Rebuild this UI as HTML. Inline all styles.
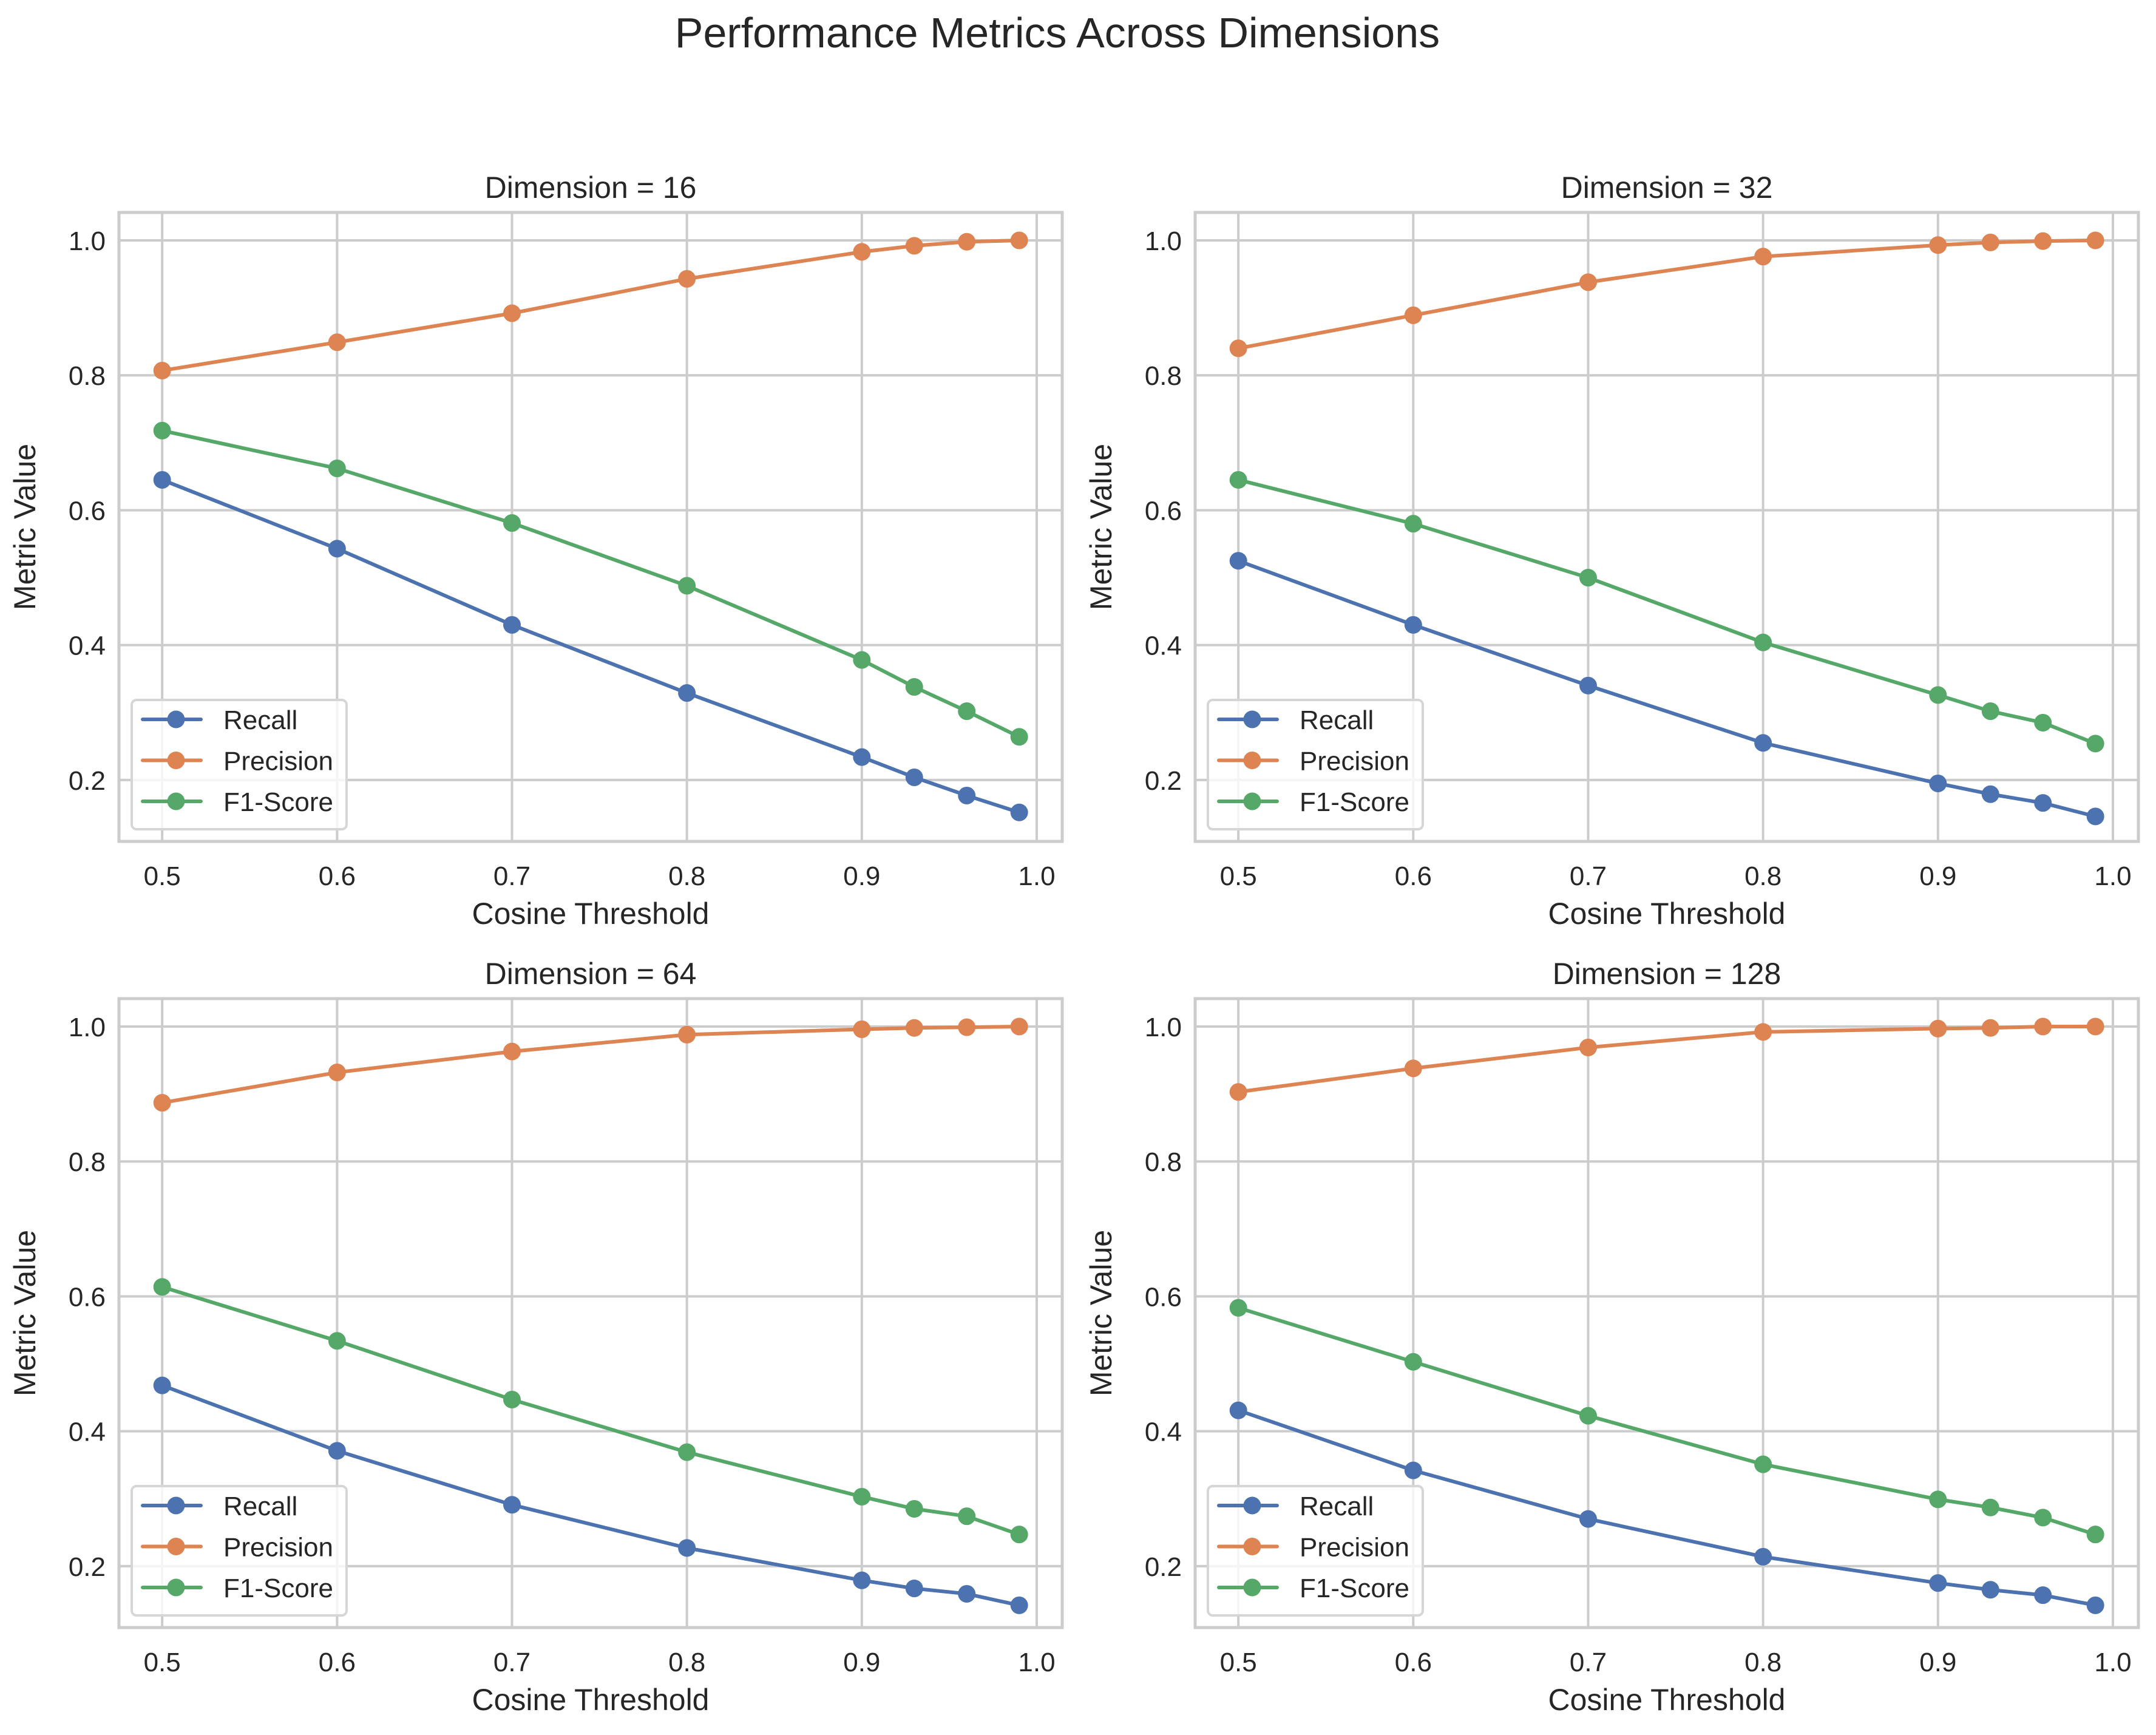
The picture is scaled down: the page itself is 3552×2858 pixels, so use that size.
<!DOCTYPE html>
<html><head><meta charset="utf-8"><style>
html,body{margin:0;padding:0;background:#fff;}
svg{display:block;font-family:"Liberation Sans",Arial,sans-serif;}
</style></head><body>
<svg id="chart" width="3552" height="2858" viewBox="0 0 3552 2858" xmlns="http://www.w3.org/2000/svg">
<rect width="3552" height="2858" fill="#fff"/>
<text x="1742" y="78" text-anchor="middle" font-size="70" fill="#262626">Performance Metrics Across Dimensions</text>
</svg>
<script>
const thresholds = [0.5, 0.6, 0.7, 0.8, 0.9, 0.93, 0.96, 0.99];
const dims = [16, 32, 64, 128];
const recall16 = [0.645, 0.543, 0.430, 0.329, 0.234, 0.204, 0.177, 0.152];
const precision16 = [0.807, 0.849, 0.892, 0.943, 0.983, 0.992, 0.998, 1.0];
const f1_16 = [0.718, 0.662, 0.581, 0.488, 0.378, 0.338, 0.302, 0.264];
const recall32 = [0.525, 0.430, 0.340, 0.255, 0.195, 0.179, 0.166, 0.146];
const precision32 = [0.840, 0.889, 0.938, 0.976, 0.993, 0.997, 0.999, 1.0];
const f1_32 = [0.645, 0.580, 0.500, 0.404, 0.326, 0.302, 0.285, 0.254];
const recall64 = [0.468, 0.371, 0.291, 0.227, 0.179, 0.167, 0.159, 0.142];
const precision64 = [0.887, 0.932, 0.963, 0.988, 0.996, 0.998, 0.999, 1.0];
const f1_64 = [0.614, 0.534, 0.447, 0.369, 0.303, 0.285, 0.274, 0.247];
const recall128 = [0.431, 0.342, 0.270, 0.214, 0.175, 0.165, 0.157, 0.142];
const precision128 = [0.903, 0.938, 0.969, 0.992, 0.997, 0.998, 1.0, 1.0];
const f1_128 = [0.583, 0.503, 0.423, 0.351, 0.299, 0.287, 0.272, 0.247];
const xTicks = [0.5, 0.6, 0.7, 0.8, 0.9, 1.0];
const xTickLabels = ["0.5", "0.6", "0.7", "0.8", "0.9", "1.0"];
const yTicks = [0.2, 0.4, 0.6, 0.8, 1.0];
const yTickLabels = ["0.2", "0.4", "0.6", "0.8", "1.0"];
const seriesNames = ["Recall", "Precision", "F1-Score"];
const panelSeries = [[recall16, precision16, f1_16],[recall32, precision32, f1_32],[recall64, precision64, f1_64],[recall128, precision128, f1_128]];

const colors = ["#4c72b0", "#dd8452", "#55a868"];
const NS = "http://www.w3.org/2000/svg";
const svg = document.getElementById('chart');
function mk(tag, attrs, parent, text){
  const e = document.createElementNS(NS, tag);
  for (const k in attrs) e.setAttribute(k, attrs[k]);
  if (text !== undefined) e.textContent = text;
  (parent || svg).appendChild(e);
  return e;
}
const xMin = 0.4753, xMax = 1.01458, yMin = 0.109, yMax = 1.0414;
const W = 1554, H = 1036;
const origins = [[196, 350], [1969, 350], [196, 1645], [1969, 1645]];

panelSeries.forEach((series, p) => {
  const [L, T] = origins[p];
  const g = mk('g', {});
  
  
  const xs = v => L + (v - xMin) / (xMax - xMin) * W;
  const ys = v => T + (yMax - v) / (yMax - yMin) * H;
  xTicks.forEach((t, i) => {
    const l = mk('line', {x1: xs(t), x2: xs(t), y1: T, y2: T + H, stroke: '#cccccc', 'stroke-width': 4}, g);
    
    
    const tx = mk('text', {x: xs(t), y: T + H + 72, 'text-anchor': 'middle', 'font-size': 44, fill: '#262626'}, g, xTickLabels[i]);
    
    
  });
  yTicks.forEach((t, i) => {
    const l = mk('line', {x1: L, x2: L + W, y1: ys(t), y2: ys(t), stroke: '#cccccc', 'stroke-width': 4}, g);
    
    
    const tx = mk('text', {x: L - 22, y: ys(t) + 16, 'text-anchor': 'end', 'font-size': 44, fill: '#262626'}, g, yTickLabels[i]);
    
    
  });
  const fr = mk('rect', {x: L, y: T, width: W, height: H, fill: 'none', stroke: '#cccccc', 'stroke-width': 5}, g);
  
  
  series.forEach((vals, s) => {
    const pts = vals.map((v, i) => xs(thresholds[i]) + ',' + ys(v)).join(' ');
    const pl = mk('polyline', {points: pts, fill: 'none', stroke: colors[s], 'stroke-width': 6, 'stroke-linejoin': 'round'}, g);
    
    
    vals.forEach((v, i) => {
      const c = mk('circle', {cx: xs(thresholds[i]), cy: ys(v), r: 14.5, fill: colors[s]}, g);
      
      
    });
  });
  const st = mk('text', {x: L + W / 2, y: T - 24, 'text-anchor': 'middle', 'font-size': 50, fill: '#262626'}, g, 'Dimension = ' + dims[p]);
  
  
  const xl = mk('text', {x: L + W / 2, y: T + H + 136, 'text-anchor': 'middle', 'font-size': 50, fill: '#262626'}, g, 'Cosine Threshold');
  
  
  const yx = L - 138, yy = T + H / 2;
  const yl = mk('text', {x: yx, y: yy, 'text-anchor': 'middle', 'font-size': 50, fill: '#262626', transform: 'rotate(-90 ' + yx + ' ' + yy + ')'}, g, 'Metric Value');
  
  
  const lg = mk('g', {}, g);
  
  
  mk('rect', {x: L + 21, y: T + 803, width: 354, height: 213, rx: 8, fill: 'rgba(255,255,255,0.8)', stroke: '#d6d6d6', 'stroke-width': 4}, lg);
  seriesNames.forEach((n, s) => {
    const ry = T + 835 + s * 67.5;
    const e = mk('g', {}, lg);
    
    
    mk('line', {x1: L + 39, x2: L + 135, y1: ry, y2: ry, stroke: colors[s], 'stroke-width': 6, 'stroke-linecap': 'round'}, e);
    mk('circle', {cx: L + 94, cy: ry, r: 14.5, fill: colors[s]}, e);
    mk('text', {x: L + 172, y: ry + 16, 'font-size': 44, fill: '#262626'}, e, n);
  });
});
</script>
</body></html>
